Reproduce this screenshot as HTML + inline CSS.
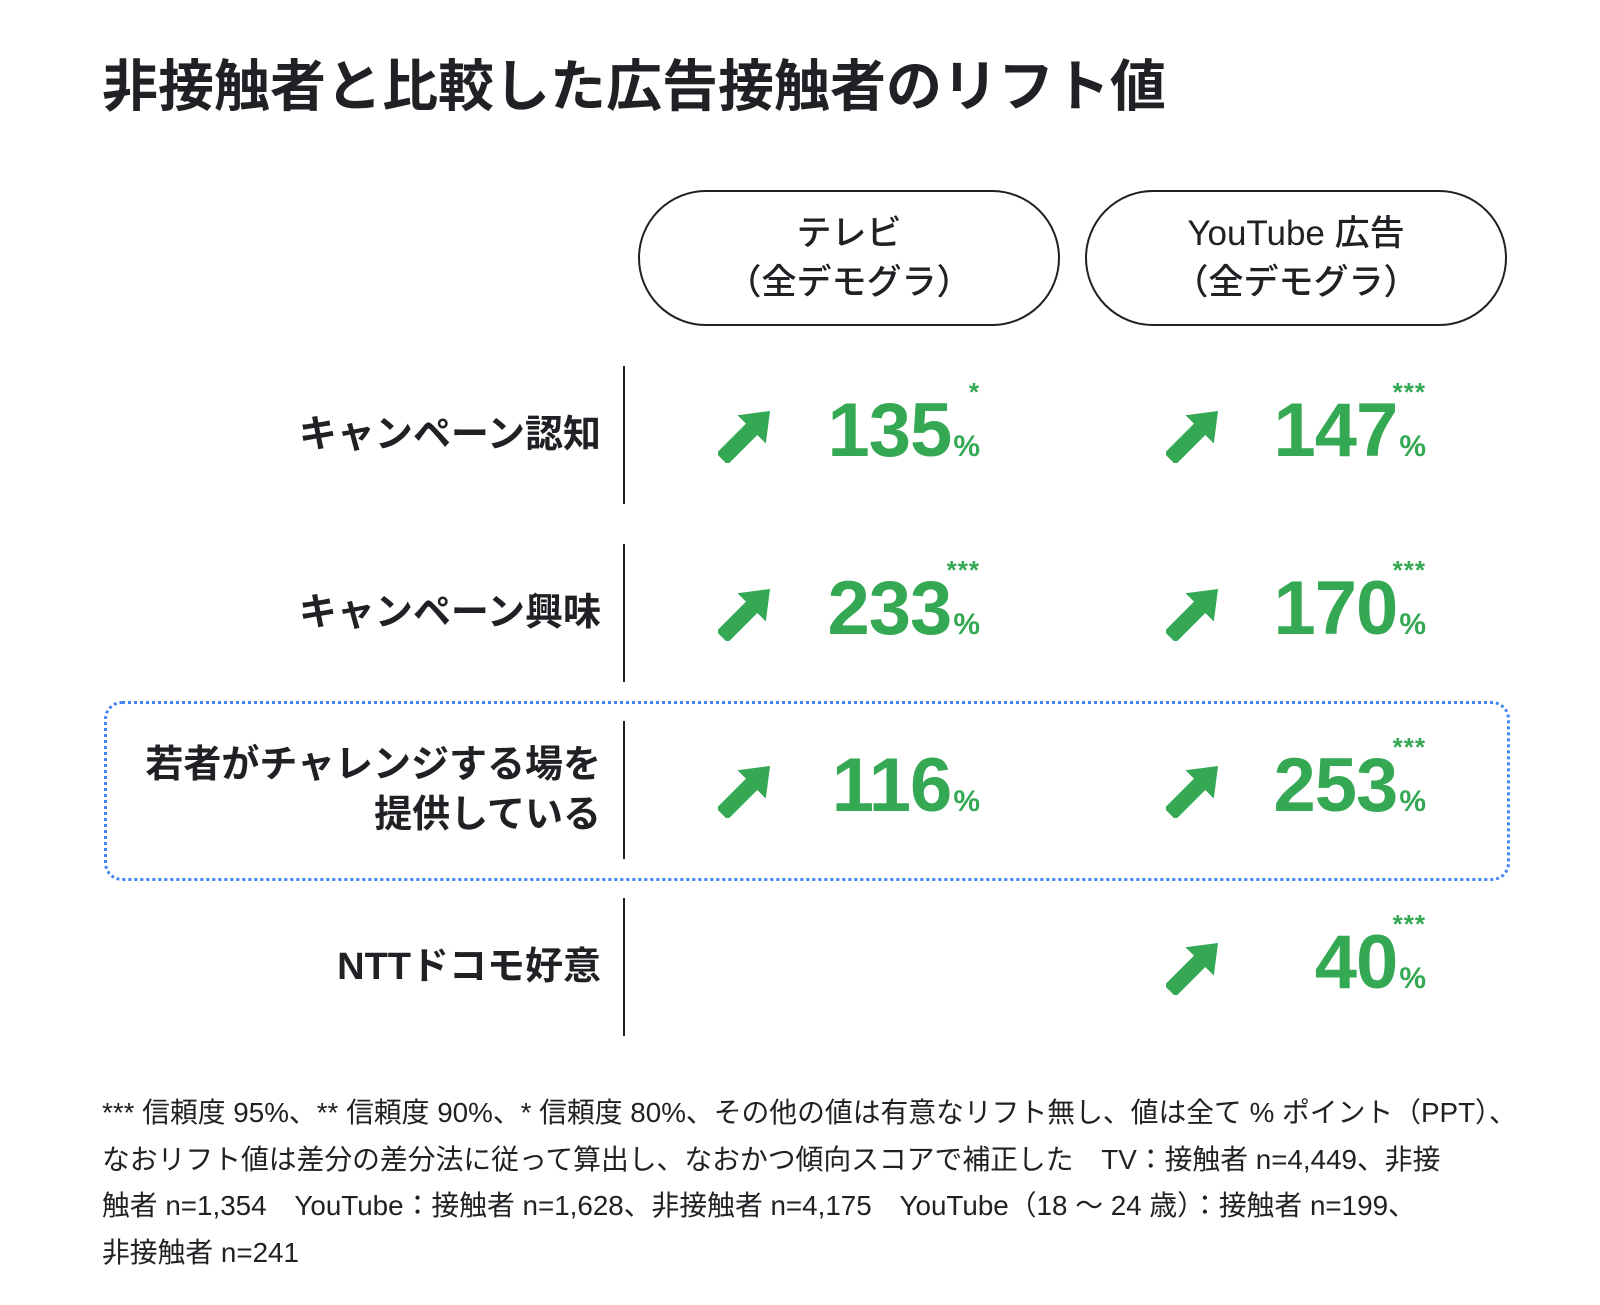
<!DOCTYPE html>
<html><head><meta charset="utf-8"><style>
body{margin:0;width:1600px;height:1305px;background:#fff;position:relative;overflow:hidden;font-family:"Liberation Sans","Noto Sans CJK JP",sans-serif;color:#202124}
.a{position:absolute}
.title{left:102px;top:42px;font-size:56px;font-weight:bold;letter-spacing:0px;white-space:nowrap}
.pill{border:2px solid #202124;border-radius:70px;width:418px;height:132px;top:190px;display:flex;align-items:center;justify-content:center;text-align:center;font-size:35px;line-height:49px;font-weight:500}
.div{left:623px;width:2px;background:#202124}
.lab{right:999px;text-align:right;font-size:38px;font-weight:bold;line-height:50px;white-space:nowrap}
.num{font-size:76px;font-weight:bold;color:#34a853;white-space:nowrap;text-align:right;letter-spacing:-1px}
.num small{font-size:30px;letter-spacing:0;margin-left:2px}
.ast{font-size:26px;font-weight:bold;color:#34a853;text-align:right;letter-spacing:1px}
.box{left:104px;top:701px;width:1400px;height:174px;border:3px dotted #4285f4;border-radius:18px}
.foot{left:102px;top:1090px;font-size:27.8px;line-height:46.5px;white-space:nowrap}
</style></head><body>
<div class="a title">非接触者と比較した広告接触者のリフト値</div>
<div class="a pill" style="left:638px">テレビ<br>（全デモグラ）</div>
<div class="a pill" style="left:1085px">YouTube 広告<br>（全デモグラ）</div>
<div class="a box"></div>
<div id="rows"></div>
<div class="a foot">*** 信頼度 95%、** 信頼度 90%、* 信頼度 80%、その他の値は有意なリフト無し、値は全て % ポイント（PPT）、<br>なおリフト値は差分の差分法に従って算出し、なおかつ傾向スコアで補正した　TV：接触者 n=4,449、非接<br>触者 n=1,354　YouTube：接触者 n=1,628、非接触者 n=4,175　YouTube（18 〜 24 歳）：接触者 n=199、<br>非接触者 n=241</div>
<script>
const labels=["キャンペーン認知","キャンペーン興味","若者がチャレンジする場を<br>提供している","NTTドコモ好意"];
const tvValues=[135,233,116,null];
const tvSig=["*","***","",""];
const ytValues=[147,170,253,40];
const ytSig=["***","***","***","***"];
const rowTop=[366,544,721,898];
const root=document.getElementById('rows');
function add(html,cls,style){const d=document.createElement('div');d.className='a '+cls;d.style.cssText=style;d.innerHTML=html;root.appendChild(d);return d;}
function arrow(x,cy){const svg='<svg width="56" height="56" viewBox="-28 -28 56 56"><g transform="rotate(-45)"><polygon points="-34,-8 8,-8 8,-20 34,0 8,20 8,8 -34,8" fill="#34a853"/></g></svg>';return add(svg,'','left:'+x+'px;top:'+(cy-28)+'px;width:56px;height:56px');}
for(let i=0;i<labels.length;i++){
  const t=rowTop[i],cy=t+69;
  const dv=add('','div','top:'+t+'px;height:138px');
  
  
  const lines=labels[i].split('<br>').length;
  const lb=add(labels[i],'lab','top:'+(cy-lines*25)+'px');
  
  
  [[tvValues,tvSig,718,980],[ytValues,ytSig,1166,1426]].forEach(function(c){
    const v=c[0][i];if(v==null)return;
    const ar=arrow(c[2],cy);
    
    
    const n=add(v+'<small>%</small>','num','right:'+(1600-c[3])+'px;top:'+(cy-46)+'px;line-height:84px');
    
    
    if(c[1][i]){const s=add(c[1][i],'ast','right:'+(1600-c[3])+'px;top:'+(cy-58)+'px');
      
      }
  });
}
</script>
</body></html>
